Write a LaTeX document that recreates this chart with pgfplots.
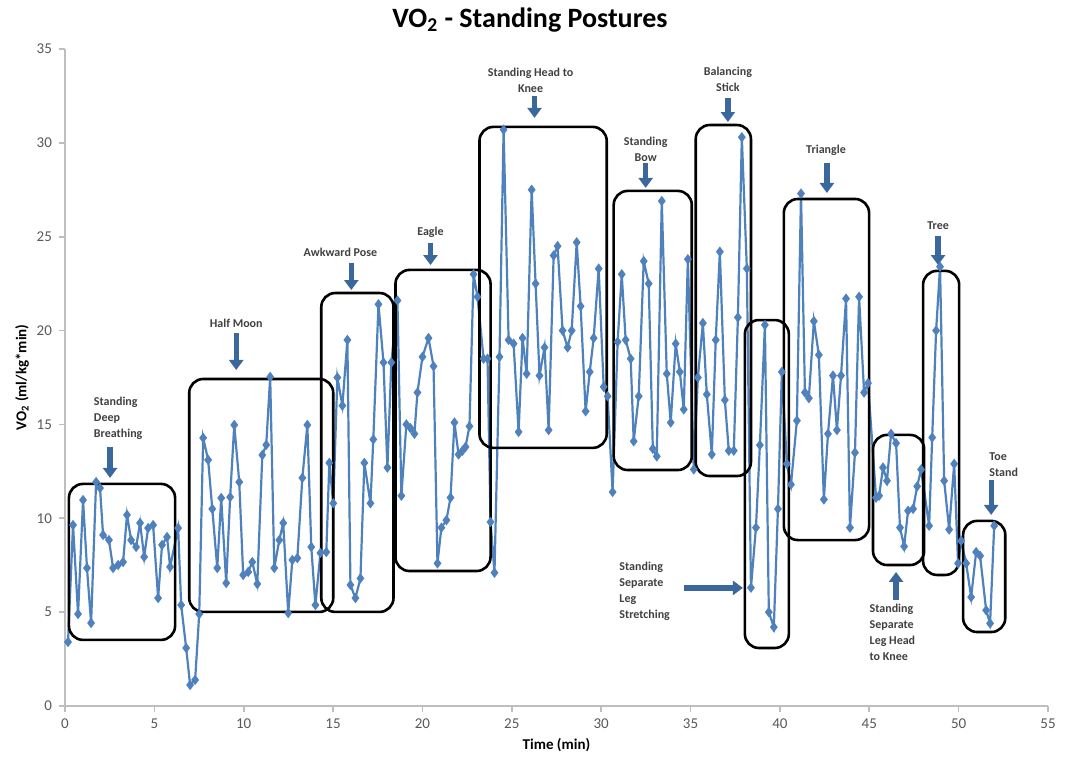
\documentclass[border=0pt]{standalone}
\usepackage{pgfplots}
\pgfplotsset{compat=1.18}
\usepackage{fontspec}
\setmainfont{Carlito}
\usetikzlibrary{arrows.meta}
\definecolor{serie}{RGB}{79,129,189}
\definecolor{arr}{RGB}{58,104,156}
\definecolor{ann}{RGB}{64,64,64}
\definecolor{spine}{RGB}{190,190,190}
\definecolor{tlab}{RGB}{89,89,89}
\pgfplotstableread{
t v
0.17 3.41
0.45 9.64
0.73 4.90
1.01 10.97
1.23 7.35
1.46 4.42
1.74 11.93
1.96 11.61
2.13 9.11
2.46 8.84
2.69 7.35
2.97 7.51
3.25 7.67
3.47 10.18
3.70 8.84
3.98 8.47
4.20 9.75
4.43 7.94
4.65 9.48
4.93 9.64
5.21 5.75
5.43 8.58
5.71 9.00
5.88 7.41
6.33 9.48
6.50 5.38
6.78 3.09
7.00 1.12
7.28 1.39
7.51 4.90
7.73 14.28
8.01 13.11
8.24 10.50
8.52 7.35
8.74 11.08
9.02 6.55
9.24 11.13
9.47 14.97
9.75 11.93
9.97 6.98
10.25 7.14
10.48 7.67
10.76 6.50
11.04 13.37
11.26 13.91
11.48 17.53
11.71 7.35
11.99 8.84
12.21 9.75
12.49 4.95
12.72 7.78
13.00 7.88
13.28 12.15
13.56 14.97
13.78 8.47
14.01 5.38
14.29 8.15
14.62 8.20
14.79 12.95
15.01 10.80
15.24 17.50
15.52 16.00
15.80 19.50
15.97 6.45
16.25 5.75
16.53 6.80
16.75 12.95
17.09 10.80
17.25 14.20
17.54 21.40
17.82 18.30
18.04 12.70
18.26 18.30
18.60 21.60
18.82 11.20
19.10 15.00
19.33 14.80
19.55 14.50
19.72 16.70
20.00 18.60
20.34 19.60
20.62 18.10
20.84 7.60
21.06 9.50
21.34 9.90
21.57 11.10
21.79 15.10
22.02 13.40
22.24 13.60
22.41 13.80
22.63 14.90
22.86 23.00
23.08 21.80
23.42 18.50
23.64 18.50
23.81 9.80
24.03 7.10
24.31 18.60
24.54 30.70
24.82 19.50
25.10 19.30
25.38 14.60
25.60 19.60
25.83 17.70
26.11 27.50
26.33 22.50
26.55 17.60
26.83 19.10
27.06 14.70
27.34 24.00
27.56 24.50
27.84 20.00
28.12 19.10
28.35 20.00
28.63 24.70
28.85 21.30
29.13 15.70
29.36 17.80
29.58 19.60
29.86 23.30
30.14 17.00
30.36 16.50
30.64 11.40
30.92 19.40
31.15 23.00
31.37 19.50
31.65 18.50
31.82 14.10
32.10 16.50
32.38 23.70
32.66 22.50
32.89 13.70
33.11 13.30
33.39 26.90
33.67 17.70
33.89 15.10
34.17 19.30
34.40 17.80
34.62 15.80
34.85 23.80
35.18 12.60
35.41 17.50
35.69 20.40
35.91 16.60
36.19 13.40
36.41 19.50
36.64 24.20
36.92 16.30
37.14 13.60
37.42 13.60
37.65 20.70
37.87 30.30
38.15 23.30
38.38 6.30
38.66 9.50
38.88 13.90
39.16 20.30
39.38 5.00
39.66 4.20
39.89 10.50
40.11 17.80
40.39 12.90
40.62 11.80
40.95 15.20
41.18 27.30
41.40 16.70
41.62 16.40
41.90 20.50
42.18 18.70
42.46 11.00
42.69 14.50
42.97 17.60
43.19 14.70
43.42 17.60
43.70 21.70
43.92 9.50
44.20 13.50
44.43 21.80
44.71 16.70
44.93 17.20
45.38 11.10
45.55 11.20
45.77 12.70
45.99 12.00
46.22 14.50
46.50 14.00
46.72 9.50
46.95 8.50
47.17 10.40
47.45 10.50
47.68 11.70
47.90 12.60
48.35 9.60
48.52 14.30
48.74 20.00
48.96 23.40
49.19 12.00
49.47 9.40
49.75 12.90
49.97 7.60
50.14 8.80
50.42 7.60
50.70 5.80
50.98 8.20
51.20 8.00
51.54 5.10
51.76 4.40
51.99 9.60
}\vodata
\begin{document}
\begin{tikzpicture}
\begin{axis}[
  name=ax,
  scale only axis,
  width=491.5pt, height=328.5pt,
  xmin=0, xmax=55, ymin=0, ymax=35,
  xtick={0,5,...,55}, ytick={0,5,...,35},
  axis lines=left,
  axis line style={draw=spine, line width=0.8pt, -},
  tick style={draw=spine, line width=0.8pt},
  tick align=outside,
  major tick length=3pt,
  ticklabel style={font=\fontsize{7.5}{9}\selectfont, text=tlab},
  /pgf/number format/assume math mode=true,
  xlabel={\textbf{Time (min)}},
  ylabel={\textbf{VO\textsubscript{2} (ml/kg*min)}},
  label style={font=\fontsize{7.5}{9}\selectfont},
  xlabel style={yshift=2pt},
  ylabel style={yshift=-3pt},
  clip=false,
]
\addplot[color=serie, line width=1.1pt, mark=diamond*, mark size=1.7pt, mark options={fill=serie, draw=serie}] table[x=t, y=v] {\vodata};

% boxes
\begin{scope}[line width=1.3pt, rounded corners=7pt]
\draw (axis cs:0.22,3.52) rectangle (axis cs:6.16,11.83);
\draw (axis cs:6.95,5.01) rectangle (axis cs:15.01,17.42);
\draw (axis cs:14.34,5.01) rectangle (axis cs:18.38,22.0);
\draw (axis cs:18.49,7.19) rectangle (axis cs:23.81,23.23);
\draw (axis cs:23.19,13.75) rectangle (axis cs:30.31,30.85);
\draw (axis cs:30.70,12.57) rectangle (axis cs:35.07,27.44);
\draw (axis cs:35.29,12.25) rectangle (axis cs:38.38,30.95);
\draw (axis cs:38.04,3.09) rectangle (axis cs:40.50,20.56);
\draw (axis cs:40.22,8.84) rectangle (axis cs:44.99,27.01);
\draw (axis cs:45.21,7.51) rectangle (axis cs:48.07,14.44);
\draw (axis cs:48.01,6.98) rectangle (axis cs:50.03,23.18);
\draw (axis cs:50.25,3.94) rectangle (axis cs:52.61,9.86);
\end{scope}

% arrows
\begin{scope}[draw=arr, line width=2.6pt, -{Triangle[width=7pt,length=5pt]}]
\draw (axis cs:2.52,13.80) -- (axis cs:2.52,12.15);
\draw (axis cs:9.58,19.87) -- (axis cs:9.58,17.90);
\draw (axis cs:16.02,23.60) -- (axis cs:16.02,22.16);
\draw (axis cs:20.45,24.67) -- (axis cs:20.45,23.49);
\draw (axis cs:26.27,32.50) -- (axis cs:26.27,31.33);
\draw (axis cs:32.49,28.93) -- (axis cs:32.49,27.60);
\draw (axis cs:37.09,32.39) -- (axis cs:37.09,31.11);
\draw (axis cs:42.63,28.93) -- (axis cs:42.63,27.33);
\draw (axis cs:48.85,25.04) -- (axis cs:48.85,23.49);
\draw (axis cs:51.82,12.04) -- (axis cs:51.82,10.18);
\draw (axis cs:34.62,6.29) -- (axis cs:37.93,6.29);
\draw (axis cs:46.50,5.65) -- (axis cs:46.50,7.14);
\end{scope}

% annotation texts
\begin{scope}[every node/.style={font=\fontsize{6}{8}\selectfont\bfseries, text=ann, inner sep=0pt}]
\node[anchor=west, align=left] at (axis cs:1.6,15.34) {Standing\\Deep\\Breathing};
\node[align=center] at (axis cs:9.58,20.4) {Half Moon};
\node[align=center] at (axis cs:15.41,24.19) {Awkward Pose};
\node[align=center] at (axis cs:20.45,25.25) {Eagle};
\node[align=center] at (axis cs:26.05,33.35) {Standing Head to\\Knee};
\node[align=center] at (axis cs:32.49,29.68) {Standing\\Bow};
\node[align=center] at (axis cs:37.09,33.38) {Balancing\\Stick};
\node[align=center] at (axis cs:42.58,29.62) {Triangle};
\node[align=center] at (axis cs:48.85,25.57) {Tree};
\node[anchor=west, align=left] at (axis cs:51.7,12.84) {Toe\\Stand};
\node[anchor=west, align=left] at (axis cs:31.0,6.13) {Standing\\Separate\\Leg\\Stretching};
\node[anchor=west, align=left] at (axis cs:45.0,3.94) {Standing\\Separate\\Leg Head\\to Knee};
\end{scope}

\node[font=\fontsize{14}{16}\selectfont\bfseries, text=black] at ([yshift=14.5pt]rel axis cs:0.473,1) {VO\textsubscript{2} - Standing Postures};
\end{axis}
\pgfresetboundingbox
\path ([shift={(-32.5pt,-29pt)}]ax.south west) rectangle ([shift={(9pt,24.5pt)}]ax.north east);
\end{tikzpicture}
\end{document}
